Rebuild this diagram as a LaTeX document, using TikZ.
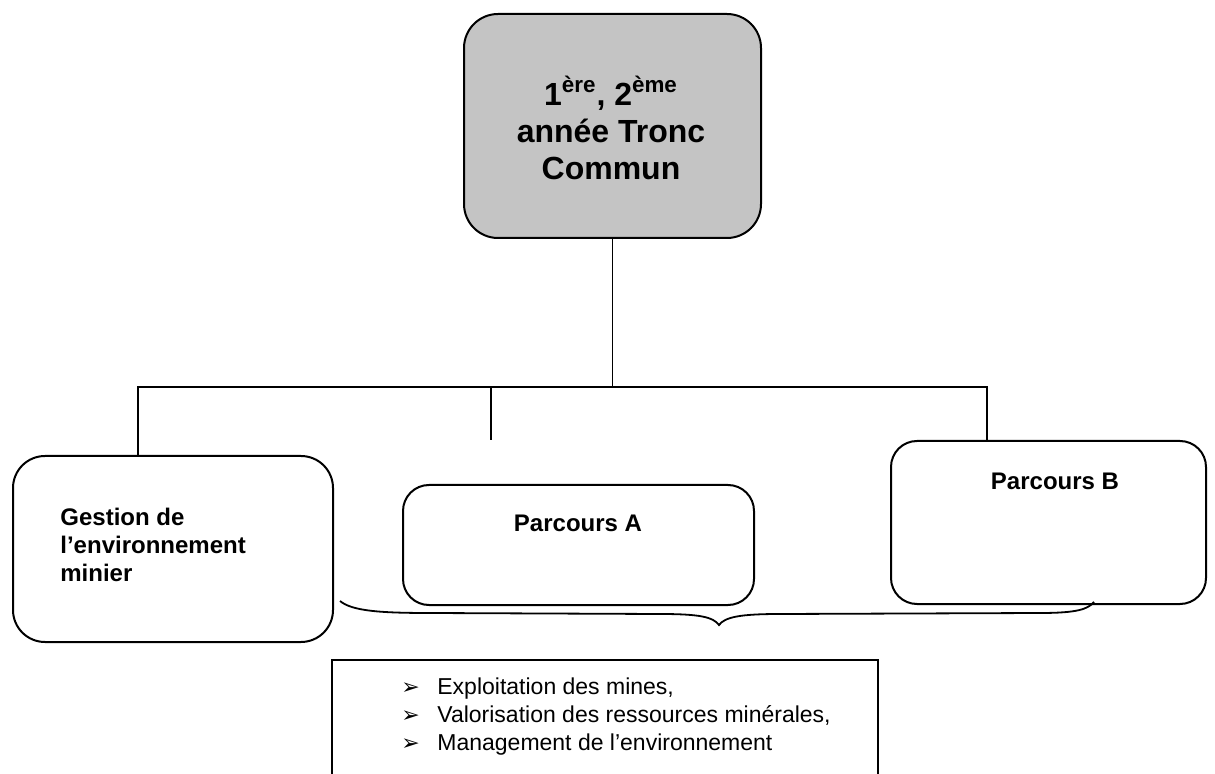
\documentclass[tikz,border=0pt]{standalone}
\usepackage{fontspec}
\setmainfont{Liberation Sans}
\newfontfamily\symfont{DejaVu Sans}
\definecolor{topgray}{HTML}{C4C4C4}
\newcommand{\bularrow}{\makebox[18pt][l]{\symfont\fontsize{11}{14}\selectfont ➢}}
\begin{document}
\begin{tikzpicture}[x=0.5pt,y=-0.5pt,
  box/.style={draw=black, line width=1pt, anchor=north west, inner sep=0pt},
  conn/.style={draw=black, line width=0.7pt},
  btext/.style={font=\bfseries\fontsize{12}{14}\selectfont, inner sep=0pt},
  bul/.style={font=\fontsize{11.5}{14}\selectfont, inner sep=0pt}]
\useasboundingbox (0,0) rectangle (1215,774);
\clip (0,0) rectangle (1215,774);
% boxes
\node[box, fill=topgray, rounded corners=17pt, minimum width=148.5pt, minimum height=112pt] (top) at (463,13) {};
\node[box, rounded corners=16pt, minimum width=160pt, minimum height=93pt] (gbox) at (12,455) {};
\node[box, rounded corners=13pt, minimum width=175.5pt, minimum height=60pt] (abox) at (402,484) {};
\node[box, rounded corners=13pt, minimum width=157.5pt, minimum height=81.5pt] (bbox) at (890,440) {};
\node[box, rounded corners=0pt, line width=0.8pt, minimum width=273pt, minimum height=75pt] (list) at (331,659) {};
% texts
\node[font=\bfseries\fontsize{16}{18.5}\selectfont, align=center, inner sep=0pt] (toptxt) at (611,128)
  {1\textsuperscript{ère}, 2\textsuperscript{ème}\\année Tronc\\Commun};
\node[btext, anchor=west, align=left] (gtxt) at (60,545) {Gestion de\\l’environnement\\minier};
\node[btext] (atxt) at (578,523) {Parcours A};
\node[btext] (btxt) at (1055,481) {Parcours B};
\node[bul, anchor=north west, align=left] (items) at (401,677)
  {\bularrow Exploitation des mines,\\
   \bularrow Valorisation des ressources minérales,\\
   \bularrow Management de l’environnement};
% connectors
\coordinate (jl) at (138,387);
\coordinate (jm) at (491,387);
\coordinate (jr) at (987,387);
\coordinate (mend) at (491,440);
\draw[conn] (top.south) -- (top.south |- jl);
\draw[conn] (jl |- gbox.north) -- (jl) -- (jr) -- (jr |- bbox.north);
\draw[conn] (jm) -- (mend);
% brace
\coordinate (brL) at (340,601);
\coordinate (brT) at (719,625);
\coordinate (brR) at (1094,602);
\draw[line width=0.9pt] (brL) .. controls (352,611) and (380,613) .. (430,613) -- (660,614)
  .. controls (700,614) and (713,617) .. (brT)
  .. controls (725,617) and (740,614) .. (780,614) -- (1040,613)
  .. controls (1078,613) and (1088,609) .. (brR);
\end{tikzpicture}
\end{document}
